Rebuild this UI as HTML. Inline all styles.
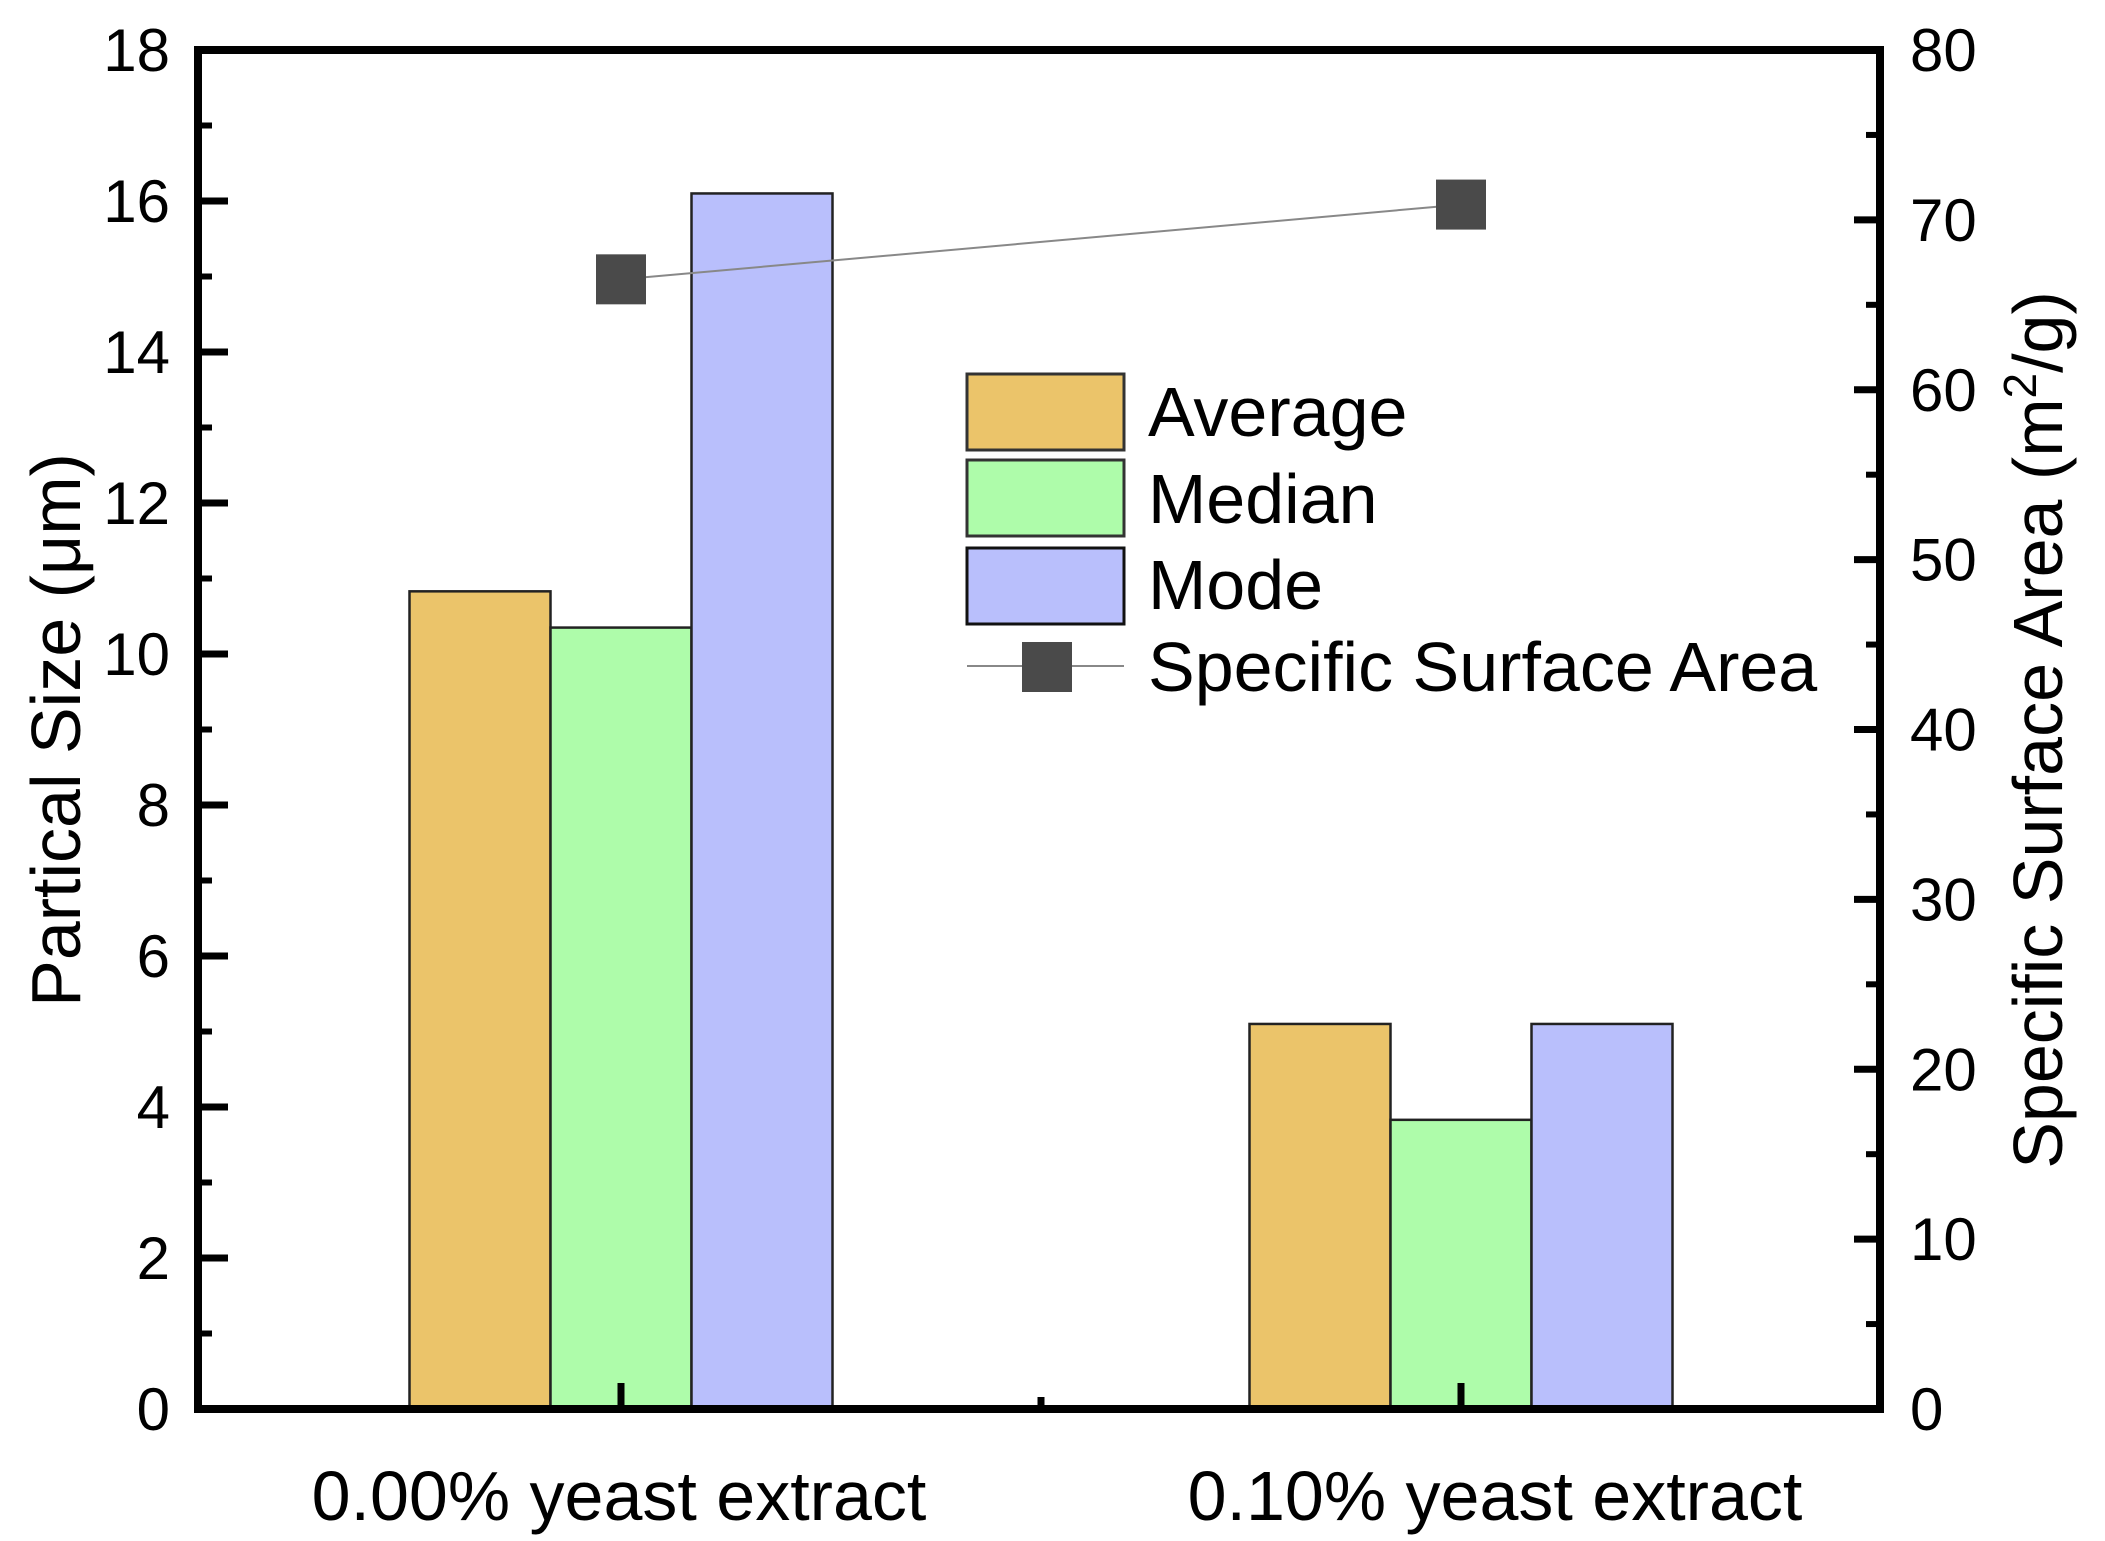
<!DOCTYPE html>
<html><head><meta charset="utf-8"><style>html,body{margin:0;padding:0;background:#fff}svg{display:block}text{font-family:"Liberation Sans",Arial,sans-serif;fill:#000}</style></head>
<body>
<svg id="chart" width="2105" height="1541" viewBox="0 0 2105 1541" xmlns="http://www.w3.org/2000/svg">
<g id="bars"></g>
<g id="line"></g>
<g id="axes"></g>
<g id="legend">
  <rect x="967" y="374" width="157" height="76" fill="#EBC46A" stroke="#333" stroke-width="3"/>
  <text x="1148" y="436" font-size="70">Average</text>
  <rect x="967" y="460" width="157" height="76" fill="#AEFCAA" stroke="#333" stroke-width="3"/>
  <text x="1148" y="523" font-size="70">Median</text>
  <rect x="967" y="548" width="157" height="76" fill="#B9BFFC" stroke="#111" stroke-width="3"/>
  <text x="1148" y="609" font-size="70">Mode</text>
  <line x1="967" y1="666" x2="1124" y2="666" stroke="#888" stroke-width="2"/>
  <rect x="1022" y="642" width="50" height="50" fill="#4a4a4a"/>
  <text x="1148" y="691" font-size="70">Specific Surface Area</text>
</g>
<text transform="translate(80,730) rotate(-90)" text-anchor="middle" font-size="70">Partical Size (μm)</text>
<text transform="translate(2062,730) rotate(-90)" text-anchor="middle" font-size="70">Specific Surface Area (m<tspan font-size="46" dy="-26">2</tspan><tspan dy="26">/g)</tspan></text>
</svg>
<script>
const categories = ["0.00% yeast extract", "0.10% yeast extract"];
const seriesNames = ["Average", "Median", "Mode"];
const averageValues = [10.83, 5.1];
const medianValues = [10.35, 3.83];
const modeValues = [16.1, 5.1];
const ssaValues = [66.5, 70.9];
const leftTicks = [0, 2, 4, 6, 8, 10, 12, 14, 16, 18];
const rightTicks = [0, 10, 20, 30, 40, 50, 60, 70, 80];

const NS = "http://www.w3.org/2000/svg";
const X0 = 198, X1 = 1880, Y0 = 1409, Y1 = 50;
const catX = i => 621 + i * 840;
const yL = v => Y0 - (v / 18) * (Y0 - Y1);
const yR = v => Y0 - (v / 80) * (Y0 - Y1);
const BW = 141;
function mk(tag, attrs, parent) {
  const e = document.createElementNS(NS, tag);
  for (const k in attrs) e.setAttribute(k, attrs[k]);
  parent.appendChild(e);
  return e;
}
const bars = document.getElementById('bars');
const colors = ["#EBC46A", "#AEFCAA", "#B9BFFC"];
const series = [averageValues, medianValues, modeValues];
series.forEach((vals, s) => {
  vals.forEach((v, i) => {
    const cx = catX(i) + (s - 1) * BW;
    const r = mk('rect', {x: cx - BW / 2, y: yL(v), width: BW, height: Y0 - yL(v), fill: colors[s], stroke: "#222", 'stroke-width': 2.5}, bars);
    
    
  });
});
const line = document.getElementById('line');
const pts = ssaValues.map((v, i) => [catX(i), yR(v)]);
const pl = mk('polyline', {points: pts.map(p => p.join(',')).join(' '), fill: 'none', stroke: '#888', 'stroke-width': 2}, line);


pts.forEach((p, i) => {
  const m = mk('rect', {x: p[0] - 25, y: p[1] - 25, width: 50, height: 50, fill: '#4a4a4a'}, line);
  
  
});
const axes = document.getElementById('axes');
const frame = mk('rect', {x: X0, y: Y1, width: X1 - X0, height: Y0 - Y1, fill: 'none', stroke: '#000', 'stroke-width': 8}, axes);


leftTicks.forEach(v => {
  const y = yL(v);
  const t = mk('line', {x1: X0, x2: X0 + 30, y1: y, y2: y, stroke: '#000', 'stroke-width': 7}, axes);
  
  
  if (v < 18) {
    const ym = yL(v + 1);
    const m = mk('line', {x1: X0, x2: X0 + 14, y1: ym, y2: ym, stroke: '#000', 'stroke-width': 6}, axes);
    
    
  }
  const l = mk('text', {x: 170, y: y + 21, 'text-anchor': 'end', 'font-size': 60}, axes);
  l.textContent = v;
  
  
});
rightTicks.forEach(v => {
  const y = yR(v);
  const t = mk('line', {x1: X1 - 26, x2: X1, y1: y, y2: y, stroke: '#000', 'stroke-width': 7}, axes);
  
  
  if (v < 80) {
    const ym = yR(v + 5);
    const m = mk('line', {x1: X1 - 14, x2: X1, y1: ym, y2: ym, stroke: '#000', 'stroke-width': 6}, axes);
    
    
  }
  const l = mk('text', {x: 1910, y: y + 21, 'font-size': 60}, axes);
  l.textContent = v;
  
  
});
[catX(0), (catX(0) + catX(1)) / 2, catX(1)].forEach((x, i) => {
  const t = mk('line', {x1: x, x2: x, y1: Y0, y2: Y0 - (i === 1 ? 12 : 26), stroke: '#000', 'stroke-width': 7}, axes);
  
  
});
const labelX = [619, 1495];
categories.forEach((c, i) => {
  const l = mk('text', {x: labelX[i], y: 1520, 'text-anchor': 'middle', 'font-size': 70}, axes);
  l.textContent = c;
  
  
});
</script>
</body></html>
